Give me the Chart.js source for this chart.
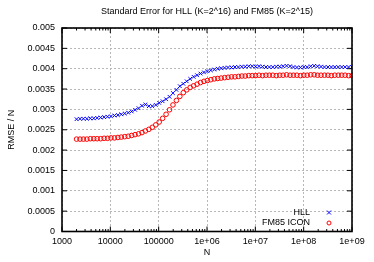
<!DOCTYPE html>
<html><head><meta charset="utf-8">
<script src="https://cdn.jsdelivr.net/npm/chart.js@4"></script>
<style>html,body{margin:0;padding:0;background:#fff}#wrap{width:374px;height:262px}</style>
</head><body><div id="wrap"><canvas id="c" width="374" height="262"></canvas></div>
<script>
const titleText = 'Standard Error for HLL (K=2^16) and FM85 (K=2^15)';
const xTitle = 'N';
const yTitle = 'RMSE / N';
const seriesNames = ['HLL', 'FM85 ICON'];

const nValues = [2000, 2357, 2777, 3272, 3855, 4542, 5351, 6305, 7429, 8754,
  10314, 12153, 14319, 16872, 19879, 23423, 27598, 32518, 38315, 45145,
  53192, 62673, 73845, 87009, 102519, 120794, 142327, 167698, 197591, 232813,
  274314, 323212, 380827, 448713, 528700, 622945, 733991, 864832, 1.019e6, 1.2006e6,
  1.4147e6, 1.6669e6, 1.964e6, 2.3141e6, 2.7266e6, 3.2126e6, 3.7853e6, 4.4601e6, 5.2551e6, 6.1919e6,
  7.2957e6, 8.5962e6, 1.0129e7, 1.1934e7, 1.4062e7, 1.6569e7, 1.9522e7, 2.3002e7, 2.7103e7, 3.1934e7,
  3.7627e7, 4.4335e7, 5.2238e7, 6.1550e7, 7.2523e7, 8.5451e7, 1.0068e8, 1.1863e8, 1.3978e8, 1.6470e8,
  1.9406e8, 2.2865e8, 2.6941e8, 3.1744e8, 3.7402e8, 4.4070e8, 5.1926e8, 6.1183e8, 7.2089e8, 8.4940e8, 1.0e9];

const hllRmse = [0.00276,0.00277,0.00277,0.00277,0.00278,0.00278,0.00279,0.00280,0.00281,0.00282,
  0.00283,0.00285,0.00286,0.00288,0.00290,0.00292,0.00295,0.00299,0.00303,0.00309,
  0.00312,0.00308,0.00308,0.00311,0.00316,0.00320,0.00325,0.00331,0.00340,0.00348,
  0.00357,0.00363,0.00369,0.00375,0.00380,0.00384,0.00388,0.00391,0.00394,0.00396,
  0.00398,0.00400,0.00401,0.00402,0.00403,0.00403,0.00404,0.00404,0.00405,0.00405,
  0.00406,0.00406,0.00405,0.00406,0.00405,0.00404,0.00404,0.00404,0.00405,0.00405,
  0.00406,0.00407,0.00406,0.00404,0.00403,0.00403,0.00404,0.00404,0.00406,0.00407,
  0.00406,0.00405,0.00404,0.00404,0.00404,0.00404,0.00404,0.00404,0.00404,0.00404,0.00404];

const fm85Rmse = [0.00227,0.00227,0.00227,0.00227,0.00228,0.00228,0.00228,0.00228,0.00229,0.00229,
  0.00230,0.00230,0.00231,0.00232,0.00233,0.00234,0.00236,0.00238,0.00240,0.00243,
  0.00247,0.00251,0.00256,0.00262,0.00269,0.00278,0.00288,0.00299,0.00311,0.00322,
  0.00332,0.00341,0.00348,0.00354,0.00358,0.00362,0.00366,0.00369,0.00371,0.00373,
  0.00375,0.00376,0.00377,0.00378,0.00379,0.00380,0.00380,0.00381,0.00382,0.00382,
  0.00383,0.00383,0.00383,0.00384,0.00383,0.00384,0.00384,0.00384,0.00383,0.00384,
  0.00384,0.00385,0.00384,0.00384,0.00384,0.00383,0.00384,0.00384,0.00385,0.00385,
  0.00384,0.00384,0.00384,0.00384,0.00383,0.00384,0.00384,0.00384,0.00384,0.00383,0.00383];

const xTickValues = [1e3, 1e4, 1e5, 1e6, 1e7, 1e8, 1e9];
const xTickLabels = ['1000', '10000', '100000', '1e+06', '1e+07', '1e+08', '1e+09'];
const yTickLabels = ['0', '0.0005', '0.001', '0.0015', '0.002', '0.0025', '0.003', '0.0035', '0.004', '0.0045', '0.005'];

const FONT = "'Liberation Sans', Arial, sans-serif";
const BLUE = '#0000ff';
const RED = '#ff0000';

const framePlugin = {
  id: 'frame',
  afterDraw(chart) {
    const { ctx, chartArea: a, scales: { x, y } } = chart;
    ctx.save();
    ctx.strokeStyle = '#000';
    ctx.lineWidth = 1;
    ctx.beginPath();
    xTickValues.forEach(v => {
      const px = x.getPixelForValue(v);
      ctx.moveTo(px, a.bottom); ctx.lineTo(px, a.bottom - 5);
      ctx.moveTo(px, a.top); ctx.lineTo(px, a.top + 5);
    });
    for (let i = 0; i < xTickValues.length - 1; i++) {
      for (let m = 2; m <= 9; m++) {
        const px = x.getPixelForValue(xTickValues[i] * m);
        ctx.moveTo(px, a.bottom); ctx.lineTo(px, a.bottom - 2.5);
        ctx.moveTo(px, a.top); ctx.lineTo(px, a.top + 2.5);
      }
    }
    y.ticks.forEach(t => {
      const py = y.getPixelForValue(t.value);
      ctx.moveTo(a.left, py); ctx.lineTo(a.left + 5, py);
      ctx.moveTo(a.right, py); ctx.lineTo(a.right - 5, py);
    });
    ctx.stroke();
    ctx.lineWidth = 1.6;
    ctx.strokeRect(a.left, a.top, a.right - a.left, a.bottom - a.top);

    ctx.font = '9px ' + FONT;
    ctx.fillStyle = '#000';
    ctx.textAlign = 'right';
    ctx.textBaseline = 'middle';
    const lx = a.right - 42, mx = a.right - 23;
    chart.data.datasets.forEach((ds, i) => {
      const ly = a.bottom - 19 + i * 10.5;
      ctx.fillText(ds.label, lx, ly);
      ctx.strokeStyle = ds.borderColor;
      ctx.lineWidth = 1;
      ctx.beginPath();
      if (ds.pointStyle === 'crossRot') {
        const r = 2;
        ctx.moveTo(mx - r, ly - r); ctx.lineTo(mx + r, ly + r);
        ctx.moveTo(mx - r, ly + r); ctx.lineTo(mx + r, ly - r);
      } else {
        ctx.arc(mx, ly, 2, 0, Math.PI * 2);
      }
      ctx.stroke();
    });
    ctx.restore();
  }
};

new Chart(document.getElementById('c'), {
  type: 'scatter',
  data: {
    datasets: [
      {
        label: seriesNames[0],
        data: nValues.map((n, i) => ({ x: n, y: hllRmse[i] })),
        pointStyle: 'crossRot', pointRadius: 2.6, borderColor: BLUE, backgroundColor: BLUE,
        pointBorderWidth: 1, showLine: false
      },
      {
        label: seriesNames[1],
        data: nValues.map((n, i) => ({ x: n, y: fm85Rmse[i] })),
        pointStyle: 'circle', pointRadius: 2.3, borderColor: RED, backgroundColor: 'rgba(0,0,0,0)',
        pointBorderWidth: 1, showLine: false
      }
    ]
  },
  options: {
    responsive: false,
    animation: false,
    devicePixelRatio: 1,
    layout: { padding: { left: 0, right: 22, top: 0, bottom: 0 } },
    plugins: {
      legend: { display: false },
      tooltip: { enabled: false },
      title: {
        display: true, text: titleText, fullSize: false, color: '#000',
        font: { family: FONT, size: 9, weight: 'normal', lineHeight: 1.2 },
        padding: { top: 6.5, bottom: 10.7 }
      }
    },
    scales: {
      x: {
        type: 'logarithmic', min: 1e3, max: 1e9,
        afterBuildTicks: s => { s.ticks = xTickValues.map(v => ({ value: v })); },
        afterFit: s => { s.height = 30.5; },
        ticks: {
          color: '#000', font: { family: FONT, size: 9 }, padding: 5, maxRotation: 0, autoSkip: false,
          callback: (v, i) => xTickLabels[i]
        },
        grid: { color: '#b8b8b8', lineWidth: 1, drawTicks: false },
        border: { display: false, dash: [2, 2] },
        title: { display: true, text: xTitle, color: '#000', font: { family: FONT, size: 9, lineHeight: 1.2 }, padding: { top: 0, bottom: 3.6 } }
      },
      y: {
        type: 'linear', min: 0, max: 0.005,
        afterFit: s => { s.width = 62; },
        ticks: {
          stepSize: 0.0005, color: '#000', font: { family: FONT, size: 9 }, padding: 7,
          callback: (v, i) => yTickLabels[i]
        },
        grid: { color: '#b8b8b8', lineWidth: 1, drawTicks: false },
        border: { display: false, dash: [2, 2] },
        title: { display: true, text: yTitle, color: '#000', font: { family: FONT, size: 9, lineHeight: 1.2 }, padding: { top: 6.6, bottom: 0 } }
      }
    }
  },
  plugins: [framePlugin]
});
</script>
</body></html>
